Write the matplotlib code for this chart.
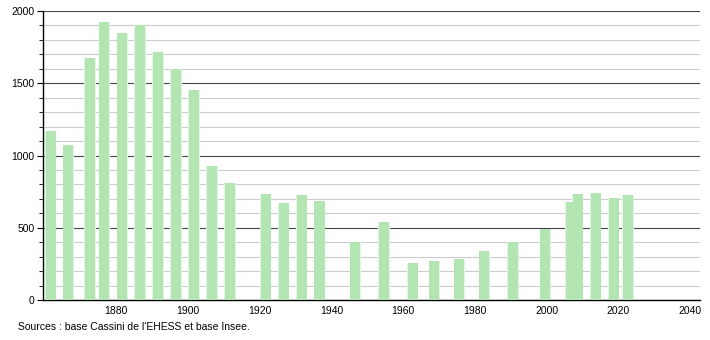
import matplotlib.pyplot as plt
from matplotlib.ticker import MultipleLocator

plt.rcParams['font.family'] = ['Liberation Sans', 'DejaVu Sans']

# census years and population
years = [1861, 1866, 1872, 1876, 1881, 1886, 1891, 1896, 1901, 1906, 1911,
         1921, 1926, 1931, 1936, 1946, 1954, 1962, 1968, 1975, 1982, 1990,
         1999, 2006, 2008, 2013, 2018, 2022]
population = [1169, 1072, 1678, 1927, 1846, 1900, 1715, 1600, 1452, 927, 807,
              733, 669, 726, 687, 401, 539, 254, 270, 286, 339, 399,
              491, 678, 731, 738, 703, 726]
x_ticks = [1880, 1900, 1920, 1940, 1960, 1980, 2000, 2020, 2040]
y_ticks = [0, 500, 1000, 1500, 2000]

fig = plt.figure(figsize=(7.1, 3.4), dpi=100)
ax = fig.add_axes([43 / 710, 40 / 340, 657 / 710, 289 / 340])

# soft halo then main bar, to mimic the blurred edges
ax.bar([y - 0.9 for y in years], population, width=3.2, align='edge',
       color='#e3f5e3', zorder=2)
ax.bar([y - 0.7 for y in years], population, width=2.8, align='edge',
       color='#b2e5b2', zorder=3)

ax.set_xlim(1859.6, 2042.8)
ax.set_ylim(0, 2000)

ax.yaxis.set_major_locator(MultipleLocator(500))
ax.yaxis.set_minor_locator(MultipleLocator(100))
ax.set_yticks(y_ticks)
ax.set_xticks(x_ticks)
ax.grid(which='minor', axis='y', color='#cccccc', linewidth=0.8, zorder=1)
ax.grid(which='major', axis='y', color='#444444', linewidth=0.8, zorder=1)
ax.set_axisbelow(True)

ax.tick_params(axis='x', length=0, labelsize=7.5, pad=4)
ax.tick_params(axis='y', which='major', length=4, width=0.8, labelsize=7.5, pad=2)
ax.tick_params(axis='y', which='minor', length=3, width=0.6)

for side in ['top', 'right']:
    ax.spines[side].set_visible(False)
ax.spines['left'].set_linewidth(1)
ax.spines['bottom'].set_linewidth(1)

fig.text(18 / 710, 1 - 327 / 340, "Sources : base Cassini de l'EHESS et base Insee.",
         fontsize=7.5, va='center', ha='left')

fig.savefig('out.png', dpi=100)
